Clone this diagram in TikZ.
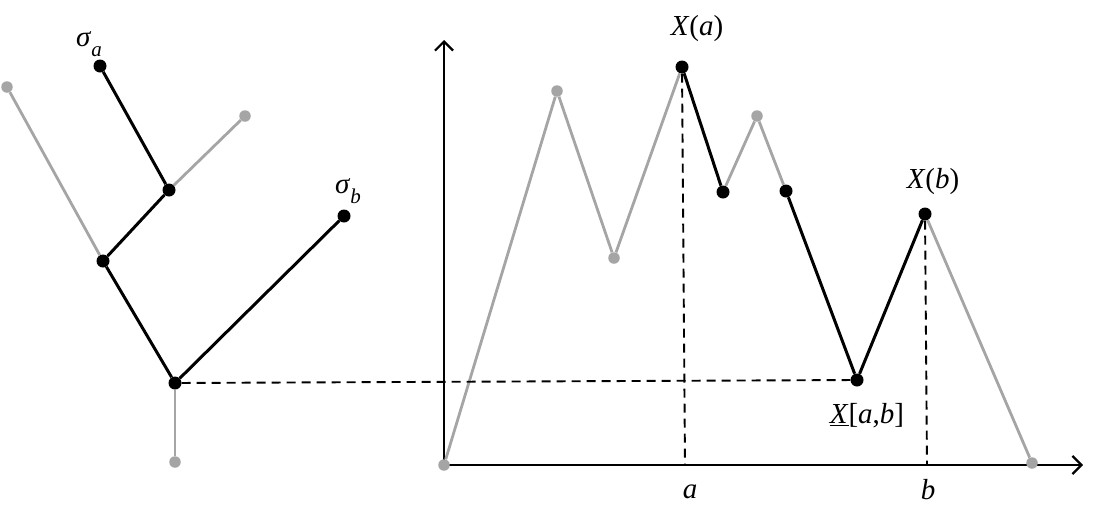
\documentclass[tikz,border=0pt]{standalone}
\usepackage{fontspec}
\setmainfont{Liberation Serif}
\usetikzlibrary{arrows.meta}
\definecolor{lgray}{RGB}{165,165,165}
\newcommand{\mysub}[1]{\raisebox{-0.35em}{\fontsize{21}{22}\selectfont\itshape #1}}
\begin{document}
\begin{tikzpicture}[x=1pt,y=-1pt,
 bl/.style={line width=3pt,black},
 gl/.style={line width=2.8pt,lgray},
 bdot/.style={circle,fill=black,inner sep=0pt,minimum size=13pt},
 gdot/.style={circle,fill=lgray,inner sep=0pt,minimum size=11.5pt},
 dsh/.style={line width=1.9pt,dash pattern=on 9pt off 6pt},
 axisline/.style={line width=2.3pt,-{Straight Barb[length=9pt,width=18pt,line width=2.2pt]}},
 lab/.style={font=\fontsize{29}{32}\selectfont,inner sep=0pt}]
\useasboundingbox (0,0) rectangle (1095,517);
% tree
\node[gdot] (l1) at (7,87) {};
\node[bdot] (sa) at (100,66) {};
\node[gdot] (l2) at (245,116) {};
\node[bdot] (n1) at (169,190) {};
\node[bdot] (n2) at (103,261) {};
\node[bdot] (sb) at (344,216) {};
\node[bdot] (r) at (175,383) {};
\node[gdot] (bot) at (175,462) {};
\draw[gl] (l1) -- (n2);
\draw[gl] (n1) -- (l2);
\draw[gl] (r) -- (bot);
\draw[bl] (sa) -- (n1);
\draw[bl] (n1) -- (n2);
\draw[bl] (n2) -- (r);
\draw[bl] (r) -- (sb);
\node[lab] (lsa) at (89,44) {\textit{σ}\mysub{a}};
\node[lab] (lsb) at (348,191) {\textit{σ}\mysub{b}};
% axes
\coordinate (o) at (444,465);
\coordinate (ytop) at (444,40);
\coordinate (xend) at (1083,465);
\draw[axisline] (o) -- (ytop);
\draw[axisline] (o) -- (xend);
% path
\node[gdot] (p0) at (444,465) {};
\node[gdot] (p1) at (557,91) {};
\node[gdot] (p2) at (614,258) {};
\node[bdot] (p3) at (682,67) {};
\node[bdot] (p4) at (723,192) {};
\node[gdot] (p5) at (757,116) {};
\node[bdot] (p6) at (786,191) {};
\node[bdot] (p7) at (857,380) {};
\node[bdot] (p8) at (925,214) {};
\node[gdot] (p9) at (1032,463) {};
\draw[gl] (p0) -- (p1);
\draw[gl] (p1) -- (p2);
\draw[gl] (p2) -- (p3);
\draw[gl] (p4) -- (p5);
\draw[gl] (p5) -- (p6);
\draw[gl] (p8) -- (p9);
\draw[bl] (p3) -- (p4);
\draw[bl] (p6) -- (p7);
\draw[bl] (p7) -- (p8);
% dashed
\coordinate (ax) at (685,465);
\coordinate (bx) at (927,465);
\draw[dsh] (p3) -- (ax);
\draw[dsh] (p8) -- (bx);
\draw[dsh] (r) -- (p7);
% labels
\node[lab] (lxa) at (697,29) {\textit{X}(\textit{a})};
\node[lab] (lxb) at (933,182) {\textit{X}(\textit{b})};
\node[lab] (lmin) at (867,416) {\underline{\textit{X}}[\textit{a},\textit{b}]};
\node[lab] (la) at (690,492) {\textit{a}};
\node[lab] (lb) at (928,490) {\textit{b}};
\end{tikzpicture}
\end{document}
